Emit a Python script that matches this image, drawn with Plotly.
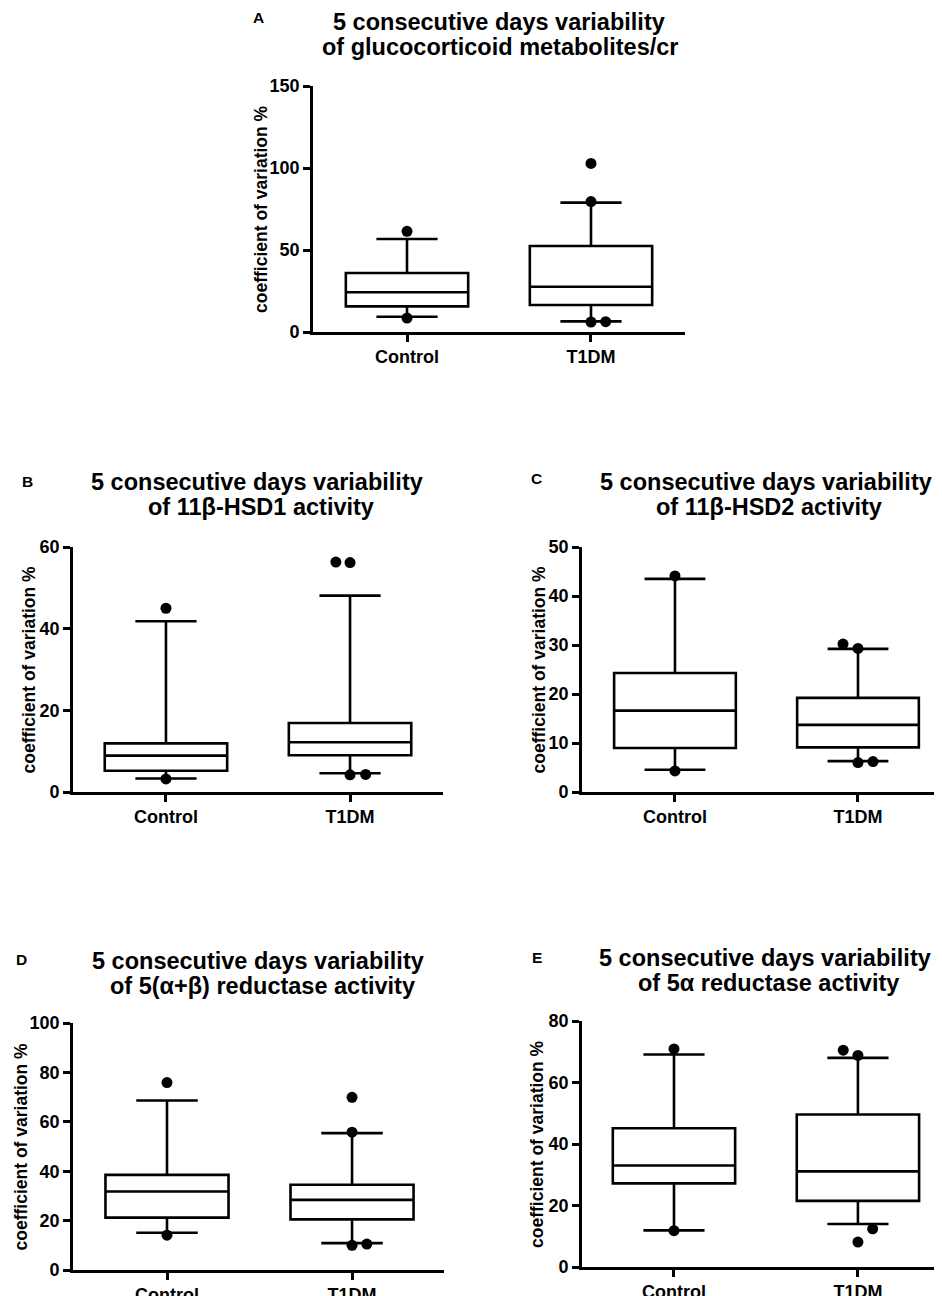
import plotly.graph_objects as go

# ---------------- data ----------------
groups = ["Control", "T1DM"]

# Panel A: glucocorticoid metabolites/cr
a_q1 = [15.6, 16.5]
a_median = [24.2, 27.6]
a_q3 = [36.0, 52.4]
a_low = [9.3, 6.5]
a_high = [56.7, 78.9]
a_out_group = [0, 0, 1, 1, 1, 1]
a_out_value = [61.4, 8.5, 102.8, 79.5, 6.1, 6.3]
a_out_shift = [0, 0, 0, 0, 0, 0.08]

# Panel B: 11β-HSD1
b_q1 = [5.2, 9.0]
b_median = [8.9, 12.2]
b_q3 = [11.9, 16.9]
b_low = [3.3, 4.6]
b_high = [41.8, 48.1]
b_out_group = [0, 0, 1, 1, 1, 1]
b_out_value = [45.0, 3.2, 56.3, 56.2, 4.2, 4.3]
b_out_shift = [0, 0, -0.077, 0, 0, 0.085]

# Panel C: 11β-HSD2
c_q1 = [8.97, 9.1]
c_median = [16.6, 13.7]
c_q3 = [24.3, 19.2]
c_low = [4.55, 6.3]
c_high = [43.5, 29.2]
c_out_group = [0, 0, 1, 1, 1, 1]
c_out_value = [44.1, 4.3, 30.2, 29.3, 6.0, 6.2]
c_out_shift = [0, 0, -0.082, 0, 0, 0.082]

# Panel D: 5(α+β) reductase
d_q1 = [21.2, 20.5]
d_median = [31.8, 28.4]
d_q3 = [38.5, 34.5]
d_low = [15.1, 10.9]
d_high = [68.6, 55.4]
d_out_group = [0, 0, 1, 1, 1, 1]
d_out_value = [75.9, 14.1, 69.9, 55.8, 10.0, 10.5]
d_out_shift = [0, 0, 0, 0, 0, 0.08]

# Panel E: 5α reductase
e_q1 = [27.2, 21.5]
e_median = [33.0, 31.1]
e_q3 = [45.1, 49.6]
e_low = [11.9, 14.0]
e_high = [69.1, 68.0]
e_out_group = [0, 0, 1, 1, 1, 1]
e_out_value = [70.9, 11.8, 70.5, 68.8, 12.4, 8.1]
e_out_shift = [0, 0, -0.08, 0, 0.08, 0]

titles = [
    ("5 consecutive days variability", "of glucocorticoid metabolites/cr"),
    ("5 consecutive days variability", "of 11β-HSD1 activity"),
    ("5 consecutive days variability", "of 11β-HSD2 activity"),
    ("5 consecutive days variability", "of 5(α+β) reductase activity"),
    ("5 consecutive days variability", "of 5α reductase activity"),
]
letters = ["A", "B", "C", "D", "E"]
y_title = "coefficient of variation %"
y_ticks = [[0, 50, 100, 150], [0, 20, 40, 60], [0, 10, 20, 30, 40, 50],
           [0, 20, 40, 60, 80, 100], [0, 20, 40, 60, 80]]

panels = [
    (a_q1, a_median, a_q3, a_low, a_high, a_out_group, a_out_value, a_out_shift),
    (b_q1, b_median, b_q3, b_low, b_high, b_out_group, b_out_value, b_out_shift),
    (c_q1, c_median, c_q3, c_low, c_high, c_out_group, c_out_value, c_out_shift),
    (d_q1, d_median, d_q3, d_low, d_high, d_out_group, d_out_value, d_out_shift),
    (e_q1, e_median, e_q3, e_low, e_high, e_out_group, e_out_value, e_out_shift),
]

# ---------------- layout (pixel geometry, page pixels) ----------------
PAGE_W, PAGE_H = 942, 1296
OFF = 8                      # default body margin of the html page
W, H = PAGE_W - OFF, PAGE_H - OFF


def px(x):
    return (x - OFF) / W


def py(y):
    return 1 - (y - OFF) / H


# (left, right, top, bottom) of plot area in page px, x range
boxes_px = [
    (313, 685, 86, 332, [-0.511, 1.511]),
    (73, 443, 547, 792, [-0.505, 1.505]),
    (582, 942, 547, 792, [-0.508, 1.459]),
    (73, 444, 1023, 1270, [-0.508, 1.497]),
    (582, 942, 1021, 1267, [-0.5, 1.457]),
]
title_pos = [  # (x line1, y line1, x line2, y line2)
    (499, 22, 500, 47),
    (257, 482, 261, 507),
    (766, 482, 769, 507),
    (258, 961, 262, 986),
    (765, 958, 768, 983),
]
letter_pos = [(258, 18), (27, 481), (536, 479), (21, 959), (537, 957)]
ytitle_x = [261, 28, 538, 20, 537]

FONT = "Liberation Sans, Arial, sans-serif"
fig = go.Figure()
annotations = []

for i, (q1, med, q3, lo, hi, og, ov, osh) in enumerate(panels):
    n = "" if i == 0 else str(i + 1)
    xa, ya = "x" + n, "y" + n
    fig.add_trace(go.Box(
        x=[0, 1], q1=q1, median=med, q3=q3, lowerfence=lo, upperfence=hi,
        width=0.665, whiskerwidth=0.5, boxpoints=False,
        fillcolor="white", line=dict(color="black", width=2.6),
        xaxis=xa, yaxis=ya, hoverinfo="skip",
    ))
    fig.add_trace(go.Scatter(
        x=[g + s for g, s in zip(og, osh)], y=ov, mode="markers",
        marker=dict(color="black", size=11), cliponaxis=False,
        xaxis=xa, yaxis=ya, hoverinfo="skip",
    ))
    l, r, t, b, xr = boxes_px[i]
    axis_common = dict(showline=True, linecolor="black", linewidth=2.6,
                       ticks="outside", ticklen=7, tickwidth=2.6, tickcolor="black",
                       showgrid=False, zeroline=False, fixedrange=True, automargin=False,
                       tickfont=dict(family=FONT, size=18, color="black", weight="bold"))
    fig.update_layout(**{
        "xaxis" + n: dict(domain=[max(px(l), 0), min(px(r), 1)], range=xr, tickvals=[0, 1],
                          ticktext=groups, anchor=ya, **axis_common),
        "yaxis" + n: dict(domain=[py(b), py(t)],
                          range=[0, y_ticks[i][-1]], tickvals=y_ticks[i],
                          anchor=xa, **axis_common),
    })
    x1, y1, x2, y2 = title_pos[i]
    for txt, tx, ty in ((titles[i][0], x1, y1), (titles[i][1], x2, y2)):
        annotations.append(dict(text=txt, x=px(tx), y=py(ty), xref="paper", yref="paper",
                                xanchor="center", yanchor="middle", showarrow=False,
                                font=dict(family=FONT, size=23.5, color="black", weight="bold")))
    lx, ly = letter_pos[i]
    annotations.append(dict(text=letters[i], x=px(lx), y=py(ly), xref="paper", yref="paper",
                            xanchor="center", yanchor="middle", showarrow=False,
                            font=dict(family=FONT, size=15.5, color="black", weight="bold")))
    annotations.append(dict(text=y_title, x=px(ytitle_x[i]), y=py((t + b) / 2),
                            xref="paper", yref="paper", textangle=-90,
                            xanchor="center", yanchor="middle", showarrow=False,
                            font=dict(family=FONT, size=17.5, color="black", weight="bold")))

fig.update_layout(width=W, height=H, margin=dict(l=0, r=0, t=0, b=0),
                  paper_bgcolor="white", plot_bgcolor="white", showlegend=False,
                  annotations=annotations)
fig.write_html("out.html")
